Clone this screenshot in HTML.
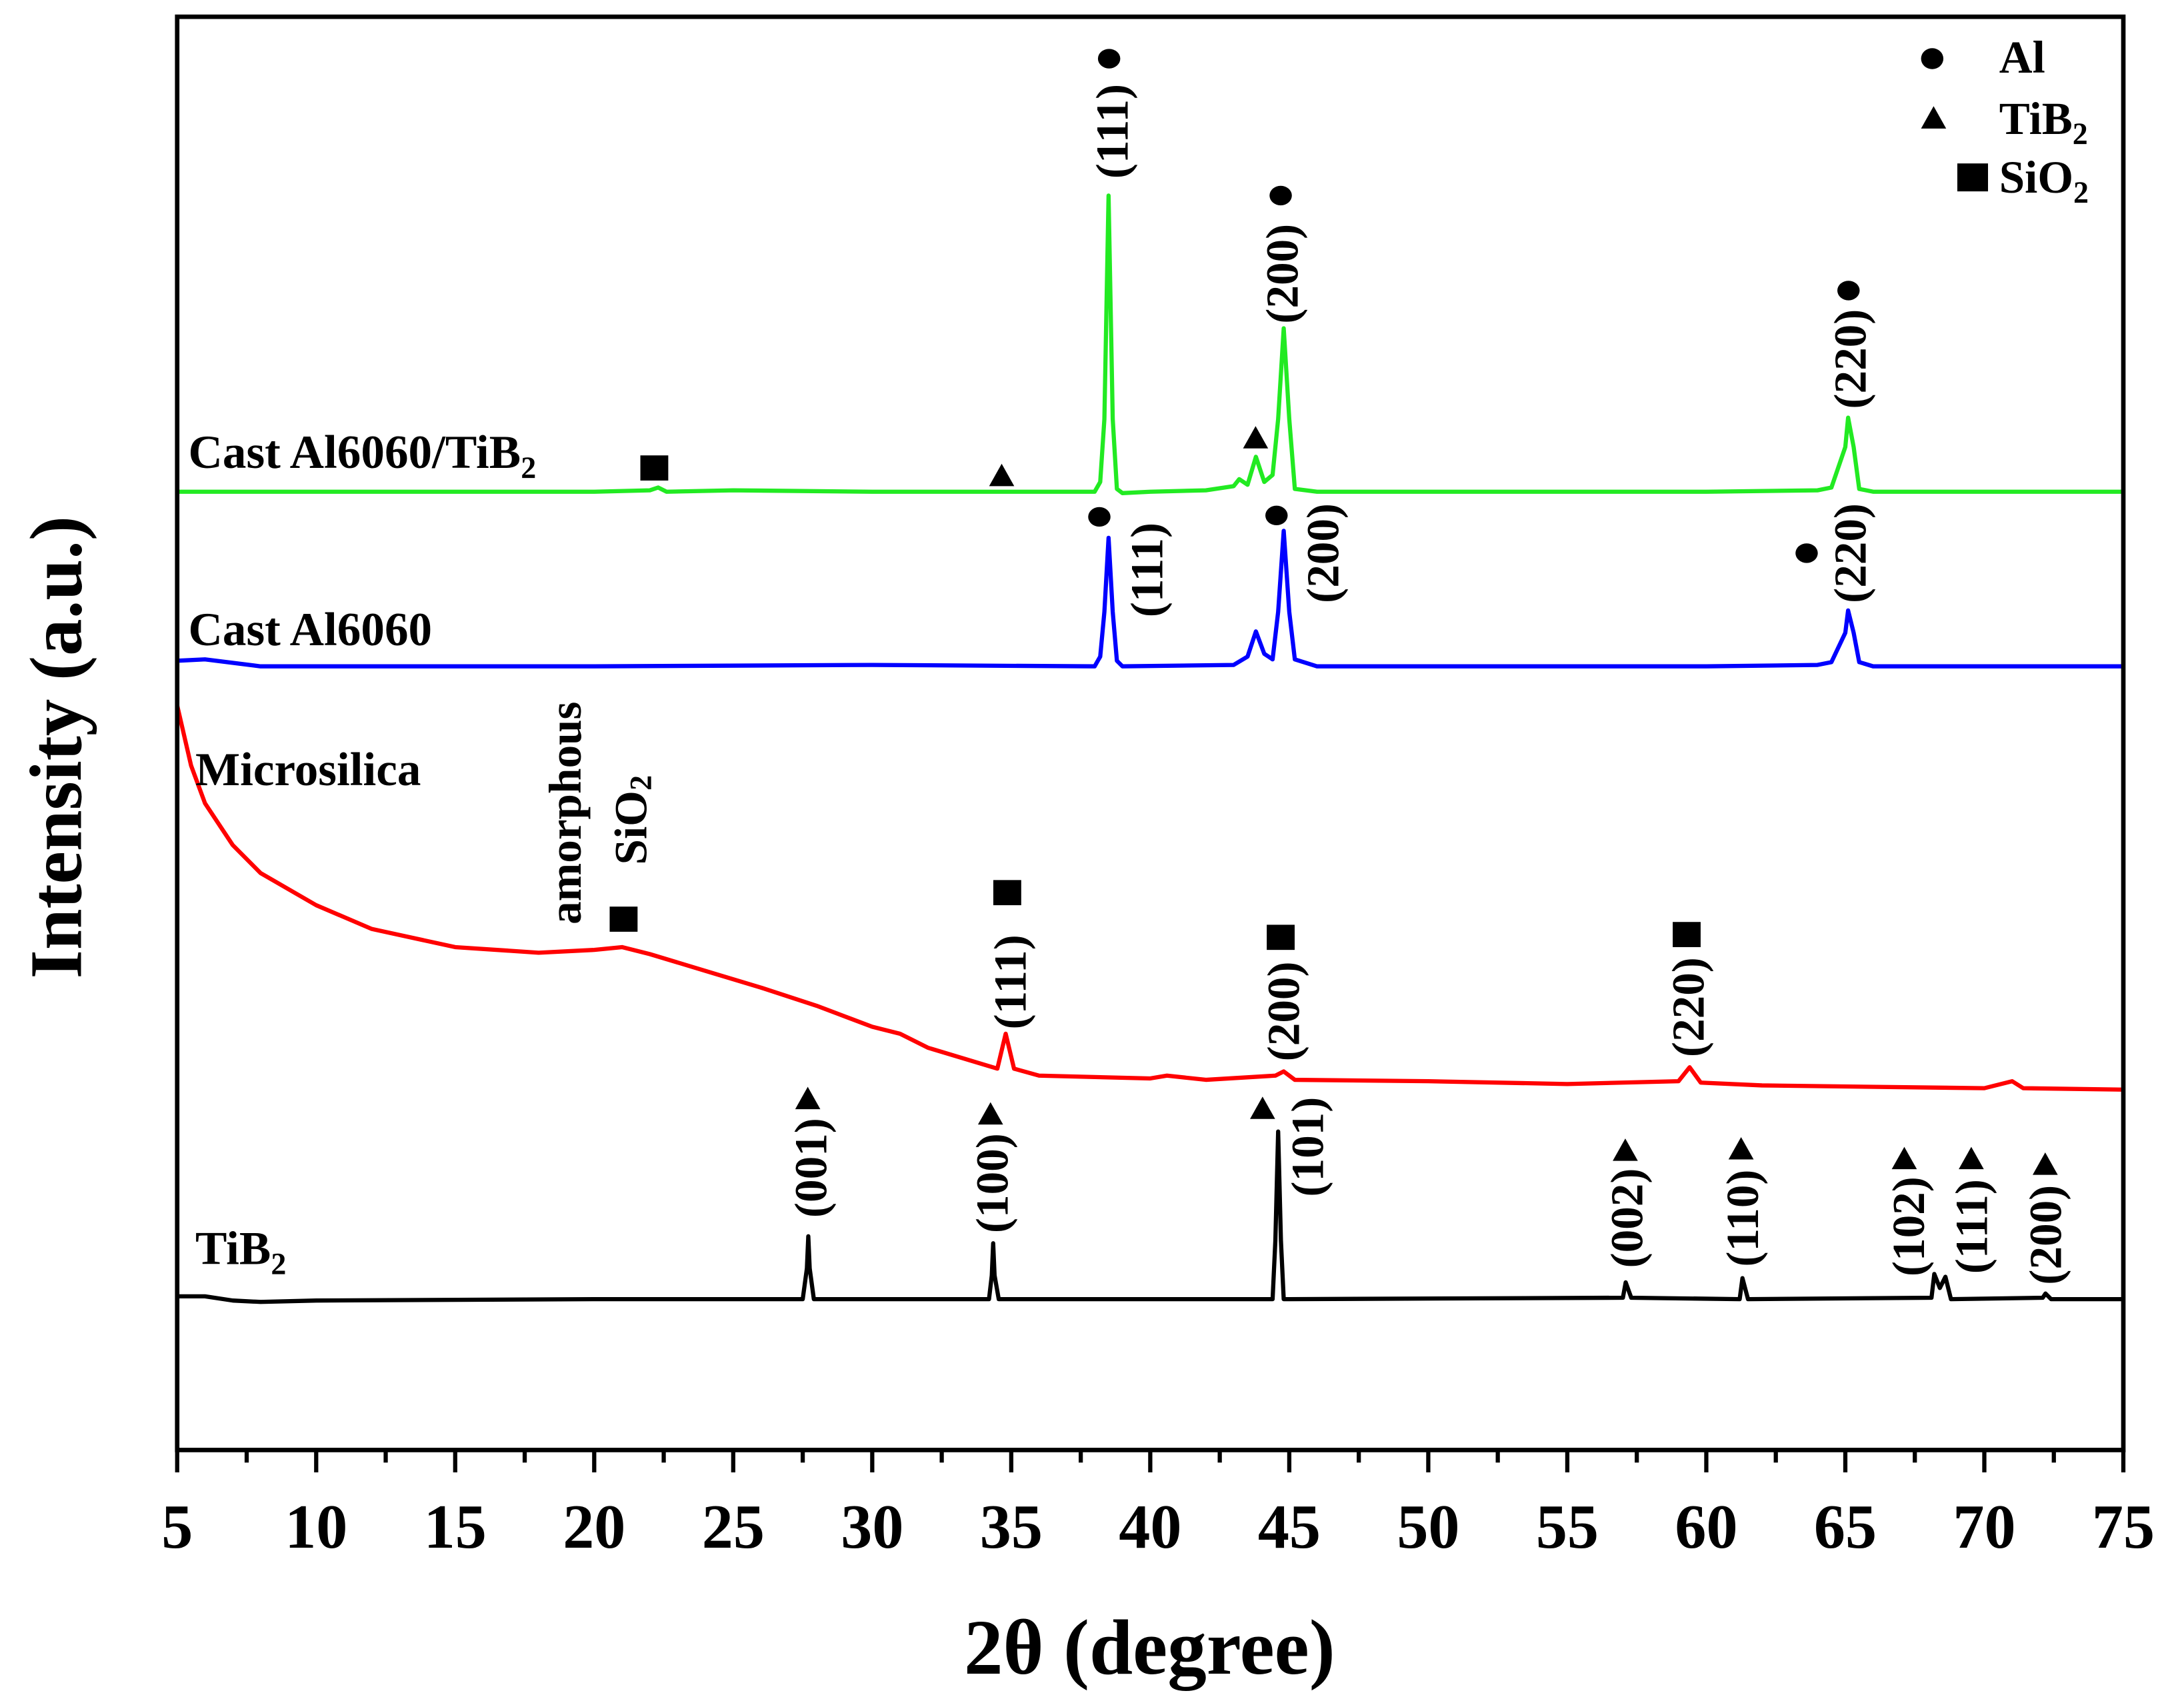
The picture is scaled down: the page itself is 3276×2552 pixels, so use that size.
<!DOCTYPE html>
<html><head><meta charset="utf-8"><style>
html,body{margin:0;padding:0;background:#fff;}
svg{display:block;}
text{font-family:"Liberation Serif",serif;font-weight:bold;fill:#000;}
</style></head><body>
<svg width="3276" height="2552" viewBox="0 0 1560 1215.24" xmlns="http://www.w3.org/2000/svg">
<rect x="0" y="0" width="1560" height="1215.24" fill="#fff"/>
<g id="chart" transform="scale(0.9965 0.998)">
<g id="series"></g>
<g id="marks"></g>
<g id="axes"></g>
</g>
</svg>
<script>
// ---- data ----
const xTicks = [5,10,15,20,25,30,35,40,45,50,55,60,65,70,75];
const greenX = [5,10,15,20,22,22.3,22.6,25,30,35,38,38.2,38.35,38.5,38.65,38.8,39,40,42,43,43.2,43.5,43.8,44.1,44.4,44.6,44.8,45,45.2,46,60,64,64.5,65,65.1,65.3,65.5,66,75];
const greenY = [686,686,686,686,687,689,686,687,686,686,686,693,738,898,738,688,685,686,687,690,695,691,711,693,698,738,803,738,688,686,686,687,689,718,739,718,688,686,686];
const blueX = [5,6,8,10,20,30,38,38.2,38.35,38.5,38.65,38.8,39,43,43.5,43.8,44.1,44.4,44.6,44.8,45,45.2,46,60,64,64.5,65,65.1,65.3,65.5,66,75];
const blueY = [565,566,561,561,561,562,561,568,600,653,600,565,561,562,568,586,570,566,600,658,600,566,561,561,562,564,585,601,585,564,561,561];
const redX = [5,5.5,6,7,8,10,12,15,18,20,21,22,24,26,28,30,31,32,34,34.5,34.8,35.1,36,40,40.6,42,44.5,44.8,45.2,50,55,59,59.4,59.8,62,70,71,71.4,75];
const redY = [533,490,463,433,413,390,373,360,356,358,360,355,343,331,318,303,298,288,276,273,298,273,268,266,268,265,268,271,265,264,262,264,274,263,261,259,264,259,258];
const blackX = [5,6,7,8,10,20,27.5,27.65,27.7,27.75,27.9,34.2,34.3,34.35,34.4,34.55,44.4,44.5,44.6,44.7,44.8,45,57,57.1,57.3,61.2,61.3,61.5,68.1,68.2,68.4,68.6,68.8,72.1,72.2,72.4,75];
const blackY = [110,110,107,106,107,108,108,130,153,130,108,108,125,148,125,108,108,150,228,150,108,108,109,120,109,108,123,108,109,126,116,124,108,109,112,108,108];

const X0=127, X1=1522, Y0=1038;
function sx(v){return X0+(v-5)*(X1-X0)/70;}
function sy(v){return Y0-v;}
const NS="http://www.w3.org/2000/svg";
function mk(tag,attrs,parent){const e=document.createElementNS(NS,tag);for(const k in attrs)e.setAttribute(k,attrs[k]);parent.appendChild(e);return e;}

const sg=document.getElementById('series');
function drawSeries(xs,ys,color,name){
  let d='';
  for(let i=0;i<xs.length;i++){d+=(i?'L':'M')+sx(xs[i]).toFixed(2)+','+sy(ys[i]).toFixed(2);}
  const p=mk('path',{d:d,fill:'none',stroke:color,'stroke-width':3,'stroke-linejoin':'round'},sg);
  
  
}
drawSeries(blackX,blackY,'#000','series-tib2');
drawSeries(redX,redY,'#ff0000','series-microsilica');
drawSeries(blueX,blueY,'#0000ff','series-cast-al6060');
drawSeries(greenX,greenY,'#22ea22','series-cast-al6060-tib2');

// ---- annotations ----
const mg=document.getElementById('marks');
function circ(x,y){const e=mk('ellipse',{cx:x,cy:y,rx:8,ry:7,fill:'#000'},mg);}
function tri(x,y){const e=mk('polygon',{points:(x-9)+','+(y+8)+' '+(x+9)+','+(y+8)+' '+x+','+(y-8),fill:'#000'},mg);}
function sq(x,y){const e=mk('rect',{x:x-10,y:y-9,width:20,height:18,fill:'#000'},mg);}
function vlab(x,yc,t,sub){const e=mk('text',{x:0,y:0,'font-size':33,'text-anchor':'middle','dominant-baseline':'central',transform:'translate('+x+','+yc+') rotate(-90)'},mg);e.textContent=t;
  if(sub){const s=mk('tspan',{'font-size':22,dy:7},e);s.textContent=sub;}
  }
// green
circ(795,42);vlab(797,94,'(111)');
circ(918,140);vlab(919,196,'(200)');
circ(1325,208);vlab(1326,257,'(220)');
tri(900,313);tri(718,340);sq(469,335);
// blue
circ(788,370);vlab(822,408,'(111)');
circ(915,369);vlab(948,396,'(200)');
circ(1295,396);vlab(1326,396,'(220)');
// red
vlab(405,582,'amorphous');vlab(452,587,'SiO','2');
sq(447,658);
sq(722,639);vlab(724,703,'(111)');
sq(918,671);vlab(920,724,'(200)');
sq(1209,669);vlab(1210,721,'(220)');
// black
tri(579,786);vlab(581,836,'(001)');
tri(710,797);vlab(711,847,'(100)');
tri(905,793);vlab(937,821,'(101)');
tri(1165,823);vlab(1166,872,'(002)');
tri(1248,822);vlab(1249,872,'(110)');
tri(1365,829);vlab(1368,878,'(102)');
tri(1413,829);vlab(1413,878,'(111)');
tri(1466,833);vlab(1466,884,'(200)');

// ---- axes ----
const ag=document.getElementById('axes');
const YT=12;
const fr=mk('rect',{x:X0,y:YT,width:X1-X0,height:Y0-YT,fill:'none',stroke:'#000','stroke-width':3.2},ag);


for(let v=5;v<=75;v+=2.5){
  const major=(v%5===0);
  const t=mk('line',{x1:sx(v),x2:sx(v),y1:Y0,y2:Y0+(major?16:9),stroke:'#000','stroke-width':3},ag);
  
  
}
for(const v of xTicks){
  const t=mk('text',{x:sx(v),y:1108,'font-size':45,'text-anchor':'middle'},ag);
  t.textContent=v;
  
  
}
document.getElementById('chart').insertAdjacentHTML('beforeend',
'<text x="824" y="1198" font-size="56" text-anchor="middle">2θ (degree)</text>'+
'<text transform="translate(58,535) rotate(-90)" font-size="53" text-anchor="middle">Intensity (a.u.)</text>'+
'<text x="135" y="335" font-size="34">Cast Al6060/TiB<tspan font-size="22" dy="7">2</tspan></text>'+
'<text x="135" y="462" font-size="34">Cast Al6060</text>'+
'<text x="140" y="562" font-size="34">Microsilica</text>'+
'<text x="140" y="905" font-size="34">TiB<tspan font-size="22" dy="7">2</tspan></text>'+
'<g>'+
'<ellipse cx="1385" cy="42" rx="8" ry="7.5" fill="#000"/>'+
'<text x="1433" y="52" font-size="33">Al</text>'+
'<polygon points="1377,92 1395,92 1386,76" fill="#000"/>'+
'<text x="1433" y="96" font-size="33">TiB<tspan font-size="22" dy="7">2</tspan></text>'+
'<rect x="1403" y="117" width="22" height="20" fill="#000"/>'+
'<text x="1433" y="138" font-size="33">SiO<tspan font-size="22" dy="7">2</tspan></text>'+
'</g>');
</script>
</body></html>
